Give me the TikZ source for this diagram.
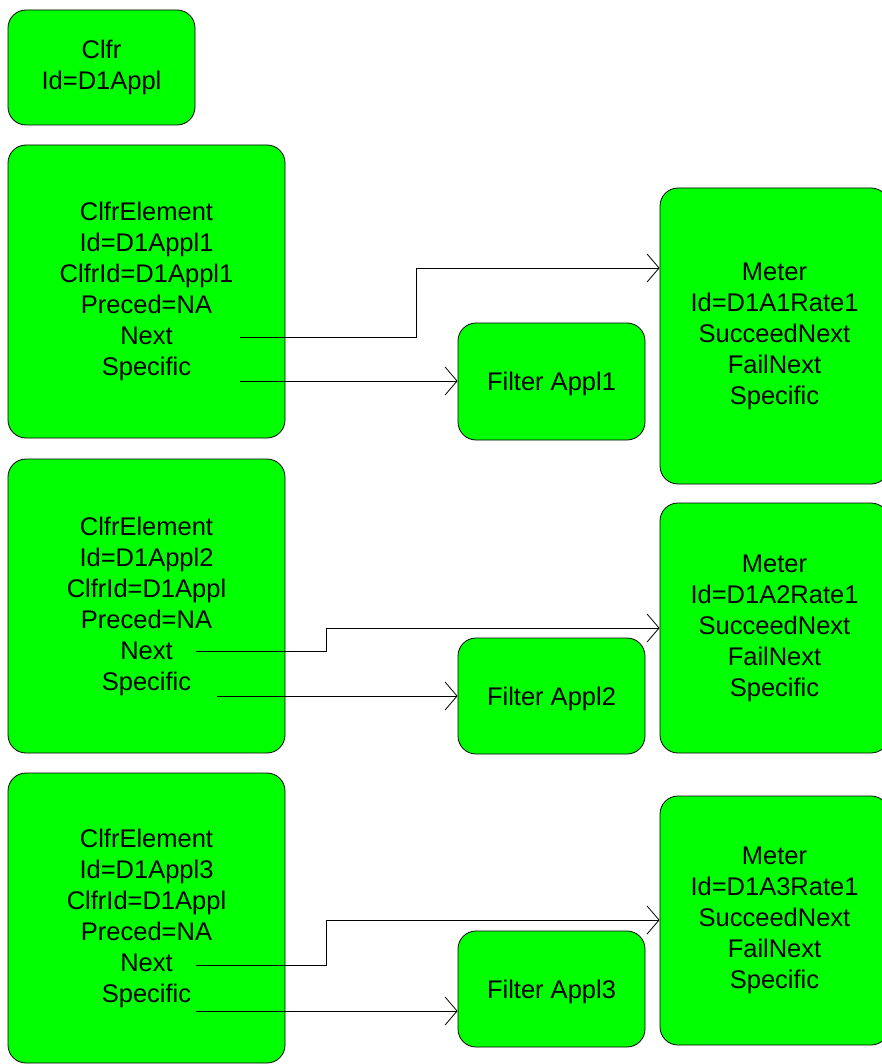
\documentclass[tikz,border=0pt]{standalone}
\usepackage{fontspec}
\setmainfont{Liberation Sans}
\usetikzlibrary{arrows.meta}
\begin{document}
\begin{tikzpicture}[x=1pt,y=-1pt,
  box/.style={draw=black, line width=0.8pt, fill=green, rounded corners=18pt, align=center, inner sep=0pt, font=\fontsize{25.5}{31}\selectfont, execute at begin node={\rule{0pt}{24pt}}},
  conn/.style={line width=0.8pt, -{Straight Barb[length=12pt,width=28pt,line width=0.8pt]}}]
\useasboundingbox (0,0) rectangle (881,1064);
% left column
\node[box, minimum width=187pt, minimum height=115pt] (clfr) at (101.5,67.5) {Clfr\\Id=D1Appl};
\node[box, minimum width=277pt, minimum height=293pt] (e1) at (146.5,291.5) {ClfrElement\\Id=D1Appl1\\ClfrId=D1Appl1\\Preced=NA\\Next\\Specific};
\node[box, minimum width=277pt, minimum height=294pt] (e2) at (146.5,606) {ClfrElement\\Id=D1Appl2\\ClfrId=D1Appl\\Preced=NA\\Next\\Specific};
\node[box, minimum width=277pt, minimum height=290pt] (e3) at (146.5,918) {ClfrElement\\Id=D1Appl3\\ClfrId=D1Appl\\Preced=NA\\Next\\Specific};
% filters
\node[box, minimum width=187pt, minimum height=117pt] (f1) at (551.5,381.5) {Filter Appl1};
\node[box, minimum width=187pt, minimum height=116pt] (f2) at (551.5,696) {Filter Appl2};
\node[box, minimum width=187pt, minimum height=116pt] (f3) at (551.5,989) {Filter Appl3};
% meters
\node[box, minimum width=229pt, minimum height=296pt] (m1) at (774.5,336) {Meter\\Id=D1A1Rate1\\SucceedNext\\FailNext\\Specific};
\node[box, minimum width=229pt, minimum height=250pt] (m2) at (774.5,628) {Meter\\Id=D1A2Rate1\\SucceedNext\\FailNext\\Specific};
\node[box, minimum width=229pt, minimum height=249pt] (m3) at (774.5,920.5) {Meter\\Id=D1A3Rate1\\SucceedNext\\FailNext\\Specific};
% connector points
\coordinate (e1n) at (240,337);
\coordinate (e1s) at (240,381);
\coordinate (b1) at (416,268);
\coordinate (e2n) at (196,651);
\coordinate (e2s) at (217,696);
\coordinate (b2) at (326,628);
\coordinate (e3n) at (196,965);
\coordinate (e3s) at (196,1011);
\coordinate (b3) at (326,920);
% connectors
\draw[conn] (e1n) -| (b1) -- (m1.west |- b1);
\draw[conn] (e1s) -- (f1.west |- e1s);
\draw[conn] (e2n) -| (b2) -- (m2.west |- b2);
\draw[conn] (e2s) -- (f2.west |- e2s);
\draw[conn] (e3n) -| (b3) -- (m3.west |- b3);
\draw[conn] (e3s) -- (f3.west |- e3s);
\end{tikzpicture}
\end{document}
